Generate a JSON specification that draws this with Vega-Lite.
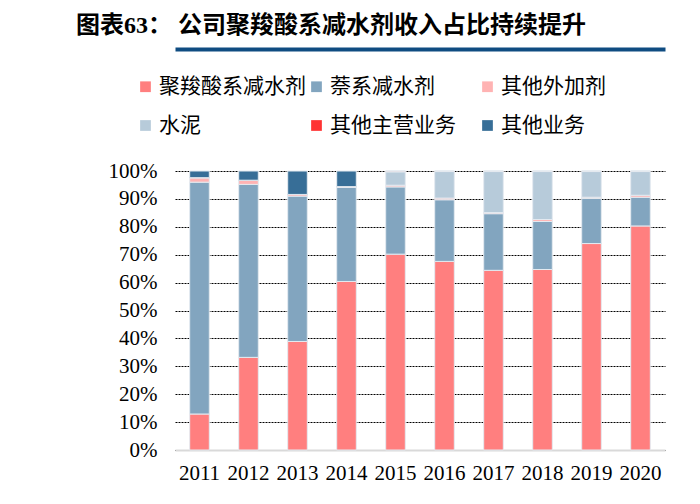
{
  "$schema": "https://vega.github.io/schema/vega-lite/v6.json",
  "width": 490,
  "height": 279,
  "autosize": {"type": "none"},
  "padding": {"left": 175, "top": 171, "right": 35, "bottom": 54},
  "background": "white",
  "title": {
    "text": "图表63：  公司聚羧酸系减水剂收入占比持续提升",
    "anchor": "start",
    "frame": "group",
    "dx": -99,
    "offset": 11,
    "font": "Liberation Serif, Noto Sans CJK SC",
    "fontSize": 24,
    "fontWeight": "bold",
    "color": "#000000"
  },
  "data": {
    "values": [
      {"year": "2011", "cat": "聚羧酸系减水剂", "ord": 1, "value": 12.9},
      {"year": "2011", "cat": "萘系减水剂", "ord": 2, "value": 83.1},
      {"year": "2011", "cat": "其他外加剂", "ord": 3, "value": 1.6},
      {"year": "2011", "cat": "水泥", "ord": 4, "value": 0},
      {"year": "2011", "cat": "其他主营业务", "ord": 5, "value": 0},
      {"year": "2011", "cat": "其他业务", "ord": 6, "value": 2.4},
      {"year": "2012", "cat": "聚羧酸系减水剂", "ord": 1, "value": 33.2},
      {"year": "2012", "cat": "萘系减水剂", "ord": 2, "value": 62.0},
      {"year": "2012", "cat": "其他外加剂", "ord": 3, "value": 1.5},
      {"year": "2012", "cat": "水泥", "ord": 4, "value": 0},
      {"year": "2012", "cat": "其他主营业务", "ord": 5, "value": 0},
      {"year": "2012", "cat": "其他业务", "ord": 6, "value": 3.3},
      {"year": "2013", "cat": "聚羧酸系减水剂", "ord": 1, "value": 38.9},
      {"year": "2013", "cat": "萘系减水剂", "ord": 2, "value": 52.1},
      {"year": "2013", "cat": "其他外加剂", "ord": 3, "value": 0.6},
      {"year": "2013", "cat": "水泥", "ord": 4, "value": 0},
      {"year": "2013", "cat": "其他主营业务", "ord": 5, "value": 0},
      {"year": "2013", "cat": "其他业务", "ord": 6, "value": 8.4},
      {"year": "2014", "cat": "聚羧酸系减水剂", "ord": 1, "value": 60.4},
      {"year": "2014", "cat": "萘系减水剂", "ord": 2, "value": 33.7},
      {"year": "2014", "cat": "其他外加剂", "ord": 3, "value": 0.3},
      {"year": "2014", "cat": "水泥", "ord": 4, "value": 0},
      {"year": "2014", "cat": "其他主营业务", "ord": 5, "value": 0},
      {"year": "2014", "cat": "其他业务", "ord": 6, "value": 5.6},
      {"year": "2015", "cat": "聚羧酸系减水剂", "ord": 1, "value": 70.2},
      {"year": "2015", "cat": "萘系减水剂", "ord": 2, "value": 24.1},
      {"year": "2015", "cat": "其他外加剂", "ord": 3, "value": 0.6},
      {"year": "2015", "cat": "水泥", "ord": 4, "value": 4.8},
      {"year": "2015", "cat": "其他主营业务", "ord": 5, "value": 0.3},
      {"year": "2015", "cat": "其他业务", "ord": 6, "value": 0},
      {"year": "2016", "cat": "聚羧酸系减水剂", "ord": 1, "value": 67.6},
      {"year": "2016", "cat": "萘系减水剂", "ord": 2, "value": 22.1},
      {"year": "2016", "cat": "其他外加剂", "ord": 3, "value": 0.6},
      {"year": "2016", "cat": "水泥", "ord": 4, "value": 9.5},
      {"year": "2016", "cat": "其他主营业务", "ord": 5, "value": 0.2},
      {"year": "2016", "cat": "其他业务", "ord": 6, "value": 0},
      {"year": "2017", "cat": "聚羧酸系减水剂", "ord": 1, "value": 64.4},
      {"year": "2017", "cat": "萘系减水剂", "ord": 2, "value": 20.3},
      {"year": "2017", "cat": "其他外加剂", "ord": 3, "value": 0.4},
      {"year": "2017", "cat": "水泥", "ord": 4, "value": 14.7},
      {"year": "2017", "cat": "其他主营业务", "ord": 5, "value": 0.2},
      {"year": "2017", "cat": "其他业务", "ord": 6, "value": 0},
      {"year": "2018", "cat": "聚羧酸系减水剂", "ord": 1, "value": 64.7},
      {"year": "2018", "cat": "萘系减水剂", "ord": 2, "value": 17.2},
      {"year": "2018", "cat": "其他外加剂", "ord": 3, "value": 0.7},
      {"year": "2018", "cat": "水泥", "ord": 4, "value": 17.2},
      {"year": "2018", "cat": "其他主营业务", "ord": 5, "value": 0.2},
      {"year": "2018", "cat": "其他业务", "ord": 6, "value": 0},
      {"year": "2019", "cat": "聚羧酸系减水剂", "ord": 1, "value": 74.0},
      {"year": "2019", "cat": "萘系减水剂", "ord": 2, "value": 16.2},
      {"year": "2019", "cat": "其他外加剂", "ord": 3, "value": 0.4},
      {"year": "2019", "cat": "水泥", "ord": 4, "value": 9.2},
      {"year": "2019", "cat": "其他主营业务", "ord": 5, "value": 0.2},
      {"year": "2019", "cat": "其他业务", "ord": 6, "value": 0},
      {"year": "2020", "cat": "聚羧酸系减水剂", "ord": 1, "value": 80.3},
      {"year": "2020", "cat": "萘系减水剂", "ord": 2, "value": 10.3},
      {"year": "2020", "cat": "其他外加剂", "ord": 3, "value": 0.7},
      {"year": "2020", "cat": "水泥", "ord": 4, "value": 8.5},
      {"year": "2020", "cat": "其他主营业务", "ord": 5, "value": 0.2},
      {"year": "2020", "cat": "其他业务", "ord": 6, "value": 0}
    ]
  },
  "encoding": {
    "y": {
      "field": "value",
      "type": "quantitative",
      "stack": "zero",
      "scale": {"domain": [0, 100], "nice": false},
      "axis": {
        "title": null,
        "values": [0, 10, 20, 30, 40, 50, 60, 70, 80, 90, 100],
        "labelExpr": "datum.value + '%'",
        "ticks": false,
        "domain": false,
        "labelPadding": 18,
        "labelFont": "Liberation Serif",
        "labelFontSize": 21,
        "labelColor": "#000000",
        "grid": true,
        "gridColor": "#000000",
        "gridDash": [2, 1],
        "gridWidth": 1
      }
    },
    "order": {"field": "ord", "type": "quantitative", "sort": "ascending"}
  },
  "layer": [
    {
      "mark": {"type": "bar", "stroke": "#e4eaf0", "strokeWidth": 1},
      "encoding": {
        "x": {
          "field": "year",
          "type": "ordinal",
          "scale": {"paddingInner": 0.6, "paddingOuter": 0.3},
          "axis": {
            "title": null,
            "labelAngle": 0,
            "ticks": false,
            "labelPadding": 12,
            "labelFont": "Liberation Serif",
            "labelFontSize": 21,
            "labelColor": "#000000",
            "domainColor": "#d9d9d9",
            "domainWidth": 2,
            "grid": false
          }
        },
        "color": {
          "field": "cat",
          "type": "nominal",
          "sort": ["聚羧酸系减水剂", "萘系减水剂", "其他外加剂", "水泥", "其他主营业务", "其他业务"],
          "scale": {
            "domain": ["聚羧酸系减水剂", "萘系减水剂", "其他外加剂", "水泥", "其他主营业务", "其他业务"],
            "range": ["#ff7f7f", "#82a5bf", "#ffb3b3", "#b7cbda", "#ff3333", "#376e97"]
          },
          "legend": {
            "title": null,
            "orient": "none",
            "legendX": -40,
            "legendY": -95,
            "direction": "horizontal",
            "columns": 3,
            "gridAlign": "all",
            "columnPadding": 0,
            "rowPadding": 17,
            "padding": 0,
            "symbolType": "square",
            "symbolSize": 115,
            "symbolStrokeWidth": 0,
            "labelOffset": 3,
            "labelFont": "Noto Sans CJK SC",
            "labelFontSize": 21,
            "labelColor": "#000000",
            "labelLimit": 300
          }
        }
      }
    },
    {
      "mark": {"type": "bar", "opacity": 0},
      "encoding": {
        "x": {
          "field": "year",
          "type": "ordinal",
          "axis": {
            "orient": "top",
            "offset": 122,
            "title": null,
            "labels": false,
            "ticks": false,
            "grid": false,
            "domainColor": "#0f4c81",
            "domainWidth": 4
          }
        }
      }
    }
  ],
  "resolve": {"axis": {"x": "independent"}},
  "config": {
    "view": {"stroke": null}
  }
}
